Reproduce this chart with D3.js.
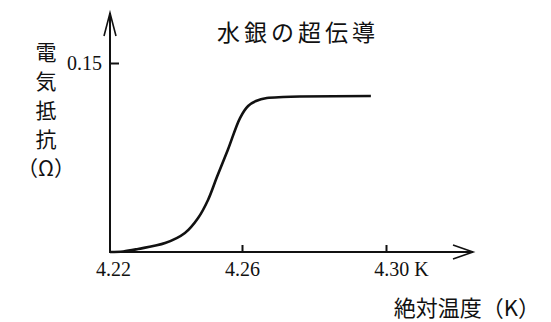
<!DOCTYPE html>
<meta charset="utf-8">
<script src="https://d3js.org/d3.v7.min.js"></script>
<style>
  body { margin: 0; background: #fff; }
</style>
<div id="chart"></div>
<script>
// values
var temps = [4.2200, 4.2240, 4.2285, 4.2367, 4.2427, 4.2467, 4.2497, 4.2524, 4.2558, 4.2594, 4.2617, 4.2639, 4.2669, 4.2714, 4.2761, 4.2958];
var resist = [0.0000, 0.0004, 0.0024, 0.0071, 0.0151, 0.0270, 0.0413, 0.0595, 0.0817, 0.1063, 0.1159, 0.1198, 0.1222, 0.1230, 0.1234, 0.1238];
var xTicks = [4.22, 4.26, 4.30];
var xTickLabels = ["4.22", "4.26", "4.30 K"];
var yTicks = [0.15];
var yLabel = ["電", "気", "抵", "抗", "（Ω）"];

var W = 551, H = 322;
var svg = d3.select("#chart").append("svg")
    .attr("width", W)
    .attr("height", H);

// the printed axis is not quite even, so a two-piece scale
var x = d3.scaleLinear().domain([4.22, 4.26, 4.30]).range([110, 242, 386]);
var y = d3.scaleLinear().domain([0, 0.15]).range([252, 63]);

var data = temps.map(function(t, i) { return {t: t, r: resist[i]}; });

// x axis, ticks pointing up into the plot
var gx = svg.append("g")
    .attr("transform", "translate(0," + y(0) + ")")
    .call(d3.axisBottom(x)
      .tickValues(xTicks)
      .tickSizeInner(-7)
      .tickSizeOuter(0)
      .tickPadding(10)
      .tickFormat(function(d, i) { return xTickLabels[i]; }));
gx.select(".domain").remove();
gx.selectAll(".tick").filter(function(d) { return d === 4.22; }).select("line").remove();
gx.selectAll(".tick text").filter(function(d) { return d === 4.22; }).attr("dx", "0.15em");
gx.selectAll(".tick text").filter(function(d) { return d === 4.30; }).attr("dx", "0.75em");

// y axis, tick to the right
var gy = svg.append("g")
    .attr("transform", "translate(" + x(4.22) + ",0)")
    .call(d3.axisLeft(y)
      .tickValues(yTicks)
      .tickSizeInner(-9)
      .tickSizeOuter(0)
      .tickPadding(8)
      .tickFormat(d3.format(".2f")));
gy.select(".domain").remove();

[gx, gy].forEach(function(g) {
  g.attr("font-family", "'Liberation Serif', serif").attr("font-size", 20);
  g.selectAll(".tick text").attr("fill", "#111");
  g.selectAll(".tick line").attr("stroke", "#111").attr("stroke-width", 2);
});

// axis lines with open arrow heads
var x0 = x(4.22), y0 = y(0);
var xEnd = 473, yEnd = 13;
svg.append("line").attr("x1", x0).attr("y1", y0).attr("x2", xEnd).attr("y2", y0)
    .attr("stroke", "#111").attr("stroke-width", 2);
svg.append("line").attr("x1", x0).attr("y1", y0 + 1).attr("x2", x0).attr("y2", yEnd)
    .attr("stroke", "#111").attr("stroke-width", 2);
svg.append("polyline")
    .attr("points", [[xEnd - 20, y0 - 7], [xEnd, y0], [xEnd - 20, y0 + 7]].join(" "))
    .attr("fill", "none").attr("stroke", "#111").attr("stroke-width", 1.6);
svg.append("polyline")
    .attr("points", [[x0 - 6, yEnd + 23], [x0, yEnd], [x0 + 6, yEnd + 23]].join(" "))
    .attr("fill", "none").attr("stroke", "#111").attr("stroke-width", 1.6);

// resistance curve
var line = d3.line()
    .x(function(d) { return x(d.t); })
    .y(function(d) { return y(d.r); })
    .curve(d3.curveCatmullRom.alpha(0.5));
svg.append("path")
    .datum(data)
    .attr("d", line)
    .attr("fill", "none")
    .attr("stroke", "#111")
    .attr("stroke-width", 2.6);

// title
svg.append("text")
    .attr("x", 298).attr("y", 41)
    .attr("text-anchor", "middle")
    .style("font-family", "'Noto Sans CJK JP', sans-serif")
    .style("font-size", "23px")
    .style("letter-spacing", "4px")
    .style("fill", "#111")
    .text("水銀の超伝導");

// vertical y label
svg.append("g").selectAll("text")
    .data(yLabel)
    .enter()
    .append("text")
      .attr("x", 46)
      .attr("y", function(d, i) { return 60 + i * 29; })
      .attr("text-anchor", "middle")
      .style("font-family", "'Noto Sans CJK JP', sans-serif")
      .style("font-size", "21px")
      .style("fill", "#111")
      .text(function(d) { return d; });

// x label
svg.append("text")
    .attr("x", 540).attr("y", 316)
    .attr("text-anchor", "end")
    .style("font-family", "'Noto Sans CJK JP', sans-serif")
    .style("font-size", "22px")
    .style("fill", "#111")
    .text("絶対温度（K）");
</script>
